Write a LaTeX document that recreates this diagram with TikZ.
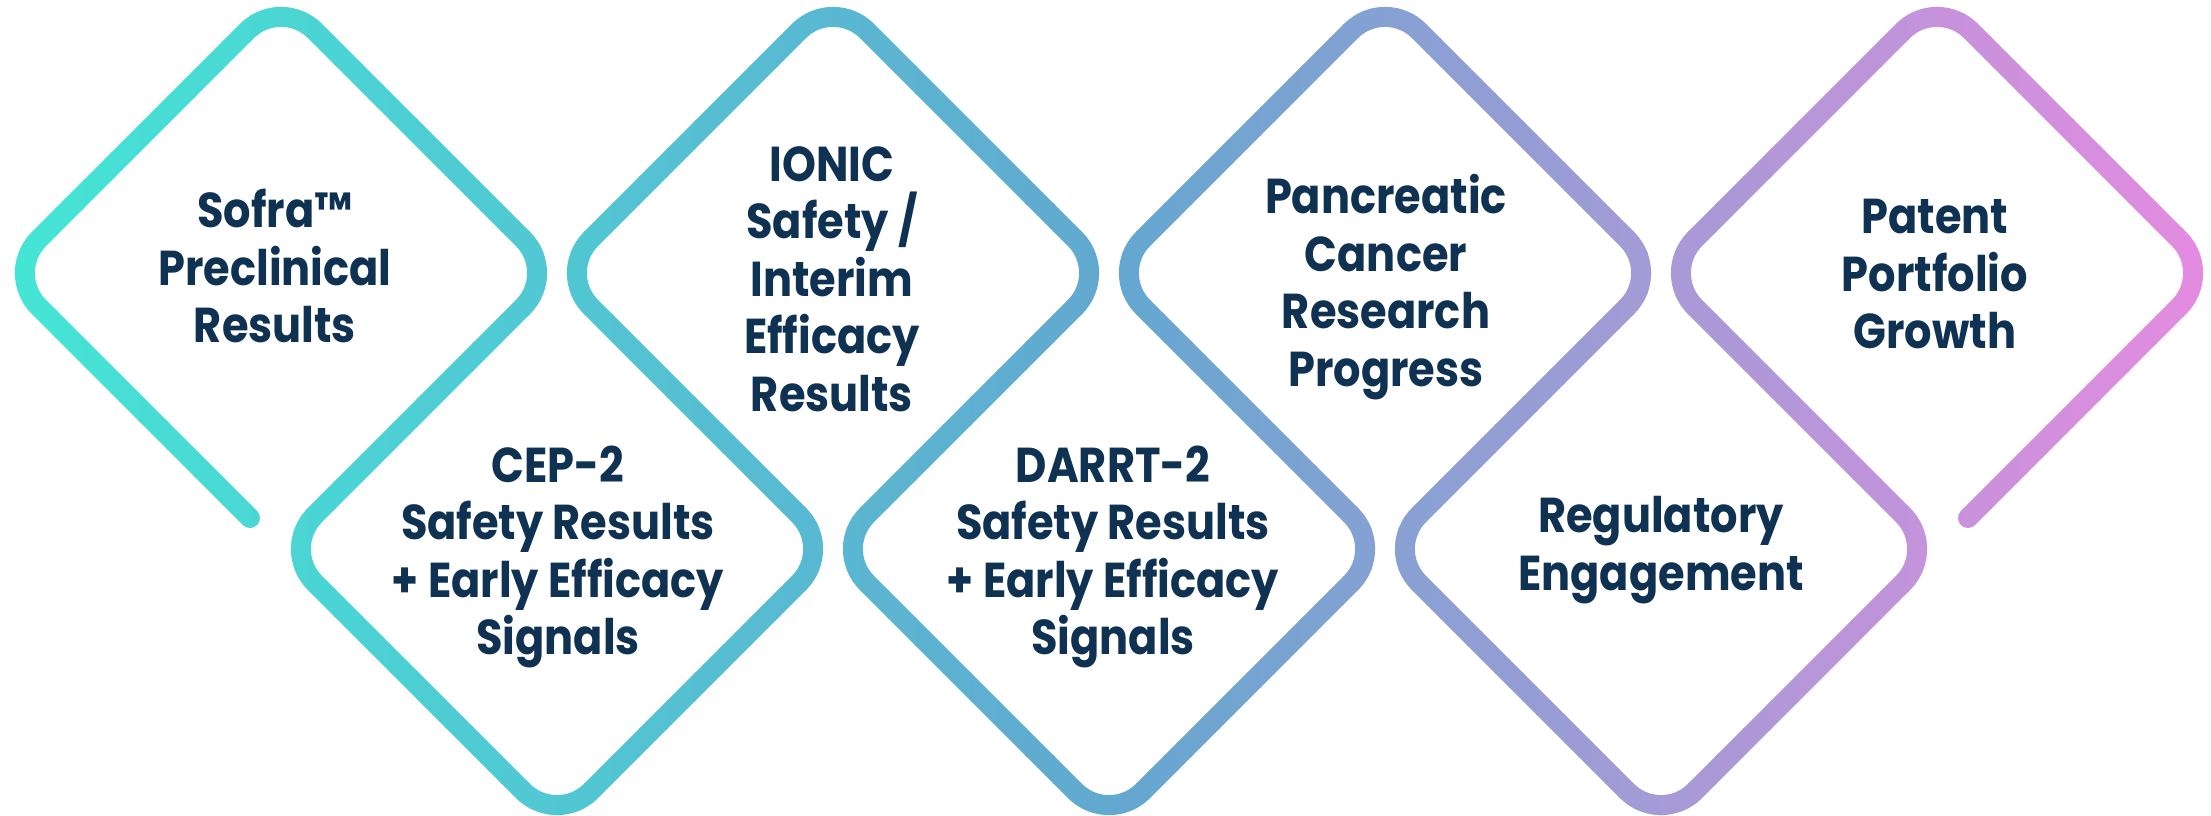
\documentclass[tikz,border=0pt]{standalone}
\usepackage{fontspec}
\newfontfamily\labelfont[FakeStretch=0.88]{Poppins}
\definecolor{gA}{HTML}{44E6D5}
\definecolor{gB}{HTML}{51C7D3}
\definecolor{gC}{HTML}{62A8D0}
\definecolor{gD}{HTML}{86A1D3}
\definecolor{gE}{HTML}{A59AD6}
\definecolor{gF}{HTML}{E58BE0}
\definecolor{navy}{HTML}{0F3152}
\tikzset{
  band/.style={line width=20pt, line cap=round, line join=round},
  label/.style={align=center, text=navy, inner sep=0pt,
    font={\labelfont\bfseries\fontsize{49}{57.5}\selectfont}}
}
\begin{document}
\begin{tikzpicture}[x=1pt,y=-1pt]
\useasboundingbox (0,0) rectangle (2211,816);
\path[rounded corners=48pt, save path=\zigzag]
  (250,518) -- (5,273) -- (281,-3) -- (557,273) -- (281,549) -- (557,825)
  -- (833,549) -- (557,273) -- (833,-3) -- (1109,273) -- (833,549)
  -- (1109,825) -- (1385,549) -- (1109,273) -- (1385,-3) -- (1661,273)
  -- (1385,549) -- (1661,825) -- (1937,549) -- (1661,273) -- (1937,-3)
  -- (2213,273) -- (1968,518);
\foreach \xa/\xb/\ca/\cb in {0/557/gA/gB, 557/1109/gB/gC, 1109/1385/gC/gD, 1385/1661/gD/gE, 1661/2211/gE/gF}{
  \foreach \i in {0,...,19}{
    \pgfmathsetmacro\sx{\xa+(\xb-\xa)*\i/20-0.6}
    \pgfmathsetmacro\ex{\xa+(\xb-\xa)*(\i+1)/20+0.6}
    \pgfmathsetmacro\pc{100-100*(\i+0.5)/20}
    \begin{scope}
      \clip (\sx,-30) rectangle (\ex,850);
      \path[band, draw=\ca!\pc!\cb, use path=\zigzag];
    \end{scope}
  }
}
\node[label] (t1) at (275,266) {Sofra™\\Preclinical\\Results};
\node[label] (t2) at (558,557) {CEP-2\\Safety Results\\+ Early Efficacy\\Signals};
\node[label] (t3) at (832,279) {IONIC\\Safety /\\Interim\\Efficacy\\Results};
\node[label] (t4) at (1113,557) {DARRT-2\\Safety Results\\+ Early Efficacy\\Signals};
\node[label] (t5) at (1386,287) {Pancreatic\\Cancer\\Research\\Progress};
\node[label] (t6) at (1661,550) {Regulatory\\Engagement};
\node[label] (t7) at (1935,274) {Patent\\Portfolio\\Growth};
\end{tikzpicture}
\end{document}
